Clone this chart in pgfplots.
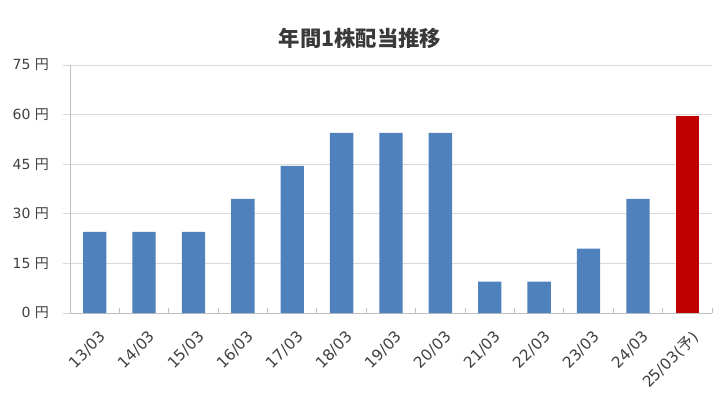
\documentclass[border=0pt]{standalone}
\usepackage{fontspec}
\setmainfont{DejaVu Sans}
\newfontfamily\cjk{Noto Sans CJK JP}
\usepackage{pgfplots}
\pgfplotsset{compat=1.18}
\definecolor{barblue}{HTML}{4F81BD}
\definecolor{barred}{HTML}{C00000}
\definecolor{txt}{HTML}{404040}
\definecolor{gridc}{HTML}{D9D9D9}
\definecolor{axc}{HTML}{BFBFBF}
\begin{document}
\begin{tikzpicture}[x=1pt,y=1pt]
\useasboundingbox (-52.5,-62.25) rectangle (488.25,234.75);
\begin{axis}[at={(0,0)}, anchor=south west, scale only axis,
  width=481.5pt, height=186pt,
  xmin=0.5, xmax=13.5, ymin=0, ymax=75,
  ytick={0,15,30,45,60,75},
  yticklabels={0 {\cjk 円},15 {\cjk 円},30 {\cjk 円},45 {\cjk 円},60 {\cjk 円},75 {\cjk 円}},
  xtick={1,2,3,4,5,6,7,8,9,10,11,12,13},
  xticklabels={13/03,14/03,15/03,16/03,17/03,18/03,19/03,20/03,21/03,22/03,23/03,24/03,25/03({\cjk 予})},
  /pgf/number format/assume math mode=true,
  x tick label style={rotate=45, anchor=north east, font=\fontsize{11.5}{13}\selectfont, text=txt, inner sep=1pt, yshift=-6pt, xshift=-2pt},
  y tick label style={font=\fontsize{10.5}{12}\selectfont, text=txt, xshift=-7pt},
  ymajorgrids, grid style={gridc, line width=0.75pt},
  axis x line*=bottom, axis y line*=left,
  axis line style={axc, line width=0.75pt},
  tick align=outside,
  major tick length=5.25pt,
  ytick style={draw=gridc, line width=0.75pt},
  xtick style={draw=none},
  extra x ticks={1.5,2.5,3.5,4.5,5.5,6.5,7.5,8.5,9.5,10.5,11.5,12.5,13.5},
  extra x tick labels={},
  extra x tick style={tick align=inside, major tick length=3.75pt, xtick style={draw=axc, line width=0.75pt}, grid=none},
]
\addplot[ybar, bar shift=0pt, bar width=17.5pt, fill=barblue, draw=none] coordinates {
  (1,24.5) (2,24.5) (3,24.5) (4,34.5) (5,44.5) (6,54.5) (7,54.5) (8,54.5)
  (9,9.5) (10,9.5) (11,19.5) (12,34.5)
};
\addplot[ybar, bar shift=0pt, bar width=17.5pt, fill=barred, draw=none] coordinates {
  (13,59.5)
};
\end{axis}
\node[font=\cjk\bfseries\fontsize{16}{19}\selectfont, text=txt!90!black] at (217.5,206) {年間1株配当推移};
\end{tikzpicture}
\end{document}
